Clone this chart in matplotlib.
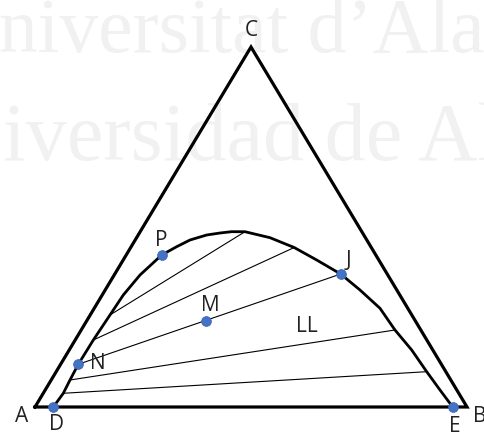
import matplotlib
matplotlib.use("Agg")
import matplotlib.pyplot as plt

# Triangle vertices (base A-B, apex C), units: base 0..100, height 0..100
vertex_names = ["A", "B", "C"]
vertex_x = [0, 100, 50]
vertex_y = [0, 0, 100]

# Binodal curve, from D to E
curve_x = [4.24, 6.55, 8.10, 10.02, 13.50, 17.36, 20.44, 24.31, 29.33, 32.80,
           35.88, 39.75, 42.82, 45.50, 48.61, 54.40, 60.00, 65.21, 70.76,
           75.23, 79.86, 83.33, 87.20, 90.67, 93.75, 96.69]
curve_y = [0, 3.81, 7.50, 11.86, 18.61, 25.56, 31.11, 36.67, 42.22, 44.53,
           46.39, 47.78, 48.33, 48.70, 48.69, 47.03, 44.30, 40.83, 36.94,
           32.50, 27.42, 21.39, 15.83, 9.81, 4.72, 0]

# Tie lines (left end -> right end)
tie_x0 = [17.36, 13.50, 10.02, 8.10, 6.55]
tie_y0 = [25.56, 18.61, 11.86, 7.50, 3.81]
tie_x1 = [48.61, 60.00, 70.76, 83.33, 90.67]
tie_y1 = [48.69, 44.30, 36.94, 21.39, 9.81]

# Marked points
point_names = ["D", "N", "P", "M", "J", "E"]
point_x = [4.24, 10.02, 29.33, 39.58, 70.76, 96.69]
point_y = [0, 11.86, 42.22, 23.97, 36.94, 0]

region_label = "LL"

# label offsets in pixels
vertex_offsets = {"A": (-13, -10), "B": (13, -10), "C": (0, 17)}
point_offsets = {"D": (3, -17), "N": (20, 1), "P": (0, 15),
                 "M": (4, 15), "J": (8, 14), "E": (2, -19)}

W, H = 484, 437
fig = plt.figure(figsize=(W / 100, H / 100), dpi=100)
fig.patch.set_facecolor("white")

# faint watermark in the background
wm_color = "#f1f1f1"
fig.text(-1 / W, 1 - 52 / H, "niversitat d\u2019Alacant", color=wm_color,
         fontsize=56, family="Liberation Serif", va="baseline", ha="left",
         zorder=0)
fig.text(3 / W, 1 - 160 / H, "iversidad de Alicante", color=wm_color,
         fontsize=59, family="Liberation Serif", va="baseline", ha="left",
         zorder=0)

ax = fig.add_axes([35 / W, (H - 407) / H, 432 / W, 360 / H])
ax.set_zorder(2)
ax.set_xlim(0, 100)
ax.set_ylim(0, 100)
ax.axis("off")
ax.patch.set_alpha(0)

font = "Open Sans"

# triangle outline
tx = vertex_x + [vertex_x[0]]
ty = vertex_y + [vertex_y[0]]
ax.plot(tx, ty, color="black", lw=2.3, solid_joinstyle="miter", clip_on=False)

# binodal curve
ax.plot(curve_x, curve_y, color="black", lw=2.0, solid_joinstyle="round",
        solid_capstyle="round", clip_on=False)

# tie lines
for x0, y0, x1, y1 in zip(tie_x0, tie_y0, tie_x1, tie_y1):
    ax.plot([x0, x1], [y0, y1], color="black", lw=0.8, clip_on=False)

# points
ax.plot(point_x, point_y, "o", color="#4472C4", ms=7, mec="#3b66b5", mew=0.6,
        clip_on=False, zorder=5)

for name, x, y in zip(point_names, point_x, point_y):
    ax.annotate(name, (x, y), xytext=point_offsets[name],
                textcoords="offset pixels", ha="center", va="center",
                fontsize=15, family=font, color="#222222")

for name, x, y in zip(vertex_names, vertex_x, vertex_y):
    ax.annotate(name, (x, y), xytext=vertex_offsets[name],
                textcoords="offset pixels", ha="center", va="center",
                fontsize=15, family=font, color="#222222",
                annotation_clip=False)

ax.text(62.9, 22.3, region_label, ha="center", va="center", fontsize=15,
        family=font, color="#222222")

fig.savefig("out.png", dpi=100, facecolor="white")
